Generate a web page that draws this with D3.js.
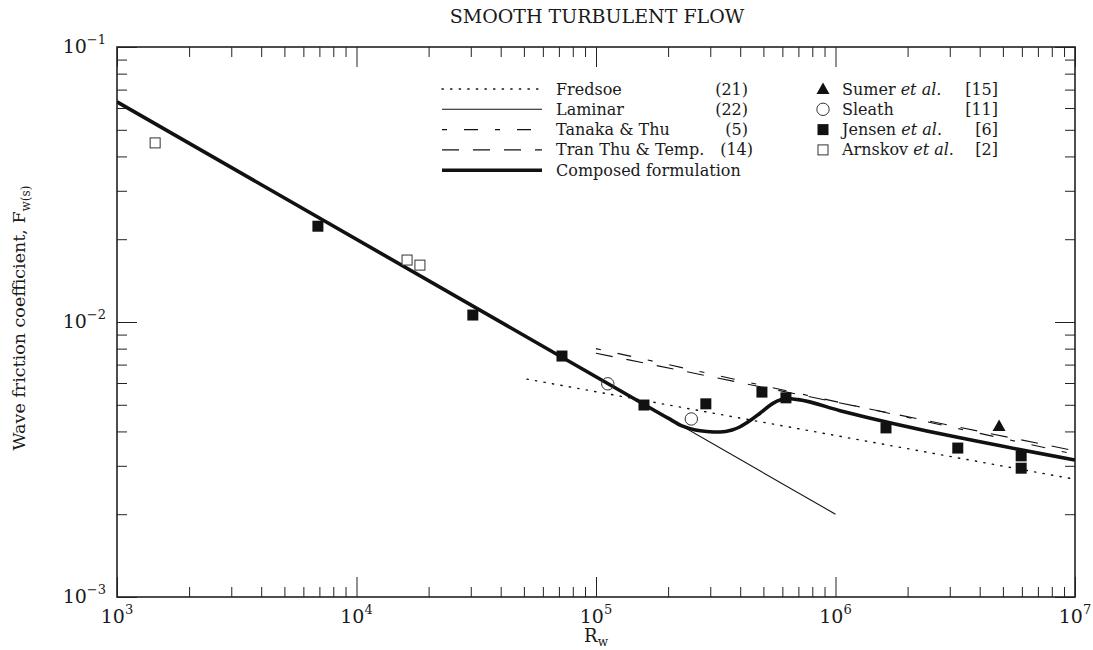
<!DOCTYPE html>
<html><head><meta charset="utf-8">
<script src="https://cdn.jsdelivr.net/npm/d3@7"></script>
<style>
body{margin:0;background:#fff;}
text{font-family:"DejaVu Serif",serif;fill:#1a1a1a;}
</style></head>
<body><svg id="c" width="1093" height="650"></svg>
<script>
// ---- data ----
const xMajorTicks = [1e3, 1e4, 1e5, 1e6, 1e7];
const xTickExp = ["3", "4", "5", "6", "7"];
const yMajorTicks = [1e-3, 1e-2, 1e-1];
const yTickExp = ["\u22123", "\u22122", "\u22121"];

const laminarRw = [1e3, 1e6];
const laminarF = [0.0632, 0.0020];
const fredsoeRw = [5.15e4, 1e7];
const fredsoeF = [0.0062, 0.00268];
const tanakaRw = [1e5, 1e7];
const tanakaF = [0.0080, 0.0033];
const tranThuRw = [1e5, 1e7];
const tranThuF = [0.0077, 0.0034];
const composedRw = [1e3, 1.5e5, 2.0e5, 2.3e5, 2.6e5, 2.9e5, 3.3e5, 3.7e5, 4.0e5, 4.4e5, 4.84e5, 5.48e5, 6.27e5, 7.0e5, 1.045e6, 1e7];
const composedF  = [0.0632, 0.00516, 0.00447, 0.00418, 0.00405, 0.00400, 0.00398, 0.00405, 0.00416, 0.00438, 0.00466, 0.00506, 0.00527, 0.00522, 0.00476, 0.00315];

const sumerRw = [4.82e6];
const sumerF = [0.00419];
const sleathRw = [1.12e5, 2.50e5];
const sleathF = [0.00596, 0.00444];
const jensenRw = [6.9e3, 3.06e4, 7.21e4, 1.586e5, 2.875e5, 4.93e5, 6.21e5, 1.625e6, 3.24e6, 5.96e6, 5.96e6];
const jensenF = [0.0223, 0.0106, 0.00752, 0.00499, 0.00504, 0.00556, 0.0053, 0.00412, 0.00348, 0.00326, 0.00294];
const arnskovRw = [1443, 16260, 18400];
const arnskovF = [0.0448, 0.0168, 0.0161];

const lineLegend = [
  {name: "Fredsoe", ref: "(21)", key: "fredsoe"},
  {name: "Laminar", ref: "(22)", key: "laminar"},
  {name: "Tanaka & Thu", ref: "(5)", key: "tanaka"},
  {name: "Tran Thu & Temp.", ref: "(14)", key: "tranthu"},
  {name: "Composed formulation", ref: "", key: "composed"}
];
const symLegend = [
  {name: "Sumer", ital: " et al.", ref: "[15]", key: "sumer"},
  {name: " Sleath", ital: "", ref: "[11]", key: "sleath"},
  {name: "Jensen", ital: " et al.", ref: "[6]", key: "jensen"},
  {name: "Arnskov", ital: " et al.", ref: "[2]", key: "arnskov"}
];

// ---- layout ----
const L = 117, R = 1075, T = 47, B = 597;
const svg = d3.select("#c");
const x = d3.scaleLog().domain([1e3, 1e7]).range([L, R]);
const y = d3.scaleLog().domain([1e-3, 1e-1]).range([B, T]);

const styles = {
  fredsoe: {w: 1.4, dash: "1.3,7.3", cap: "round"},
  laminar: {w: 1.1, dash: null},
  tanaka: {w: 1.1, dash: "5,17,14,17"},
  tranthu: {w: 1.1, dash: "17,14"},
  composed: {w: 3.6, dash: null}
};

function minors(lo, hi) {
  const out = [];
  for (let e = lo; e < hi; e++) for (let k = 2; k <= 9; k++) out.push(k * Math.pow(10, e));
  return out;
}
const xMinor = minors(3, 7), yMinor = minors(-3, -1);

function axisGroup(axisFn, scale, vals, len, transform) {
  const g = svg.append("g").attr("transform", transform)
    .call(axisFn(scale).tickValues(vals).tickSize(-len).tickFormat(""));
  g.select(".domain").remove();
  g.selectAll("line").attr("stroke", "#222").attr("stroke-width", 1);
  return g;
}
axisGroup(d3.axisBottom, x, xMinor, 10, `translate(0,${B})`);
axisGroup(d3.axisBottom, x, xMajorTicks, 20, `translate(0,${B})`);
axisGroup(d3.axisTop, x, xMinor, 10, `translate(0,${T})`);
axisGroup(d3.axisTop, x, xMajorTicks, 20, `translate(0,${T})`);
axisGroup(d3.axisLeft, y, yMinor, 10, `translate(${L},0)`);
axisGroup(d3.axisLeft, y, yMajorTicks, 20, `translate(${L},0)`);
axisGroup(d3.axisRight, y, yMinor, 10, `translate(${R},0)`);
axisGroup(d3.axisRight, y, yMajorTicks, 20, `translate(${R},0)`);

svg.append("rect").attr("x", L).attr("y", T).attr("width", R - L).attr("height", B - T)
  .attr("fill", "none").attr("stroke", "#222").attr("stroke-width", 1.6);

// tick labels
xMajorTicks.forEach((v, i) => {
  const t = svg.append("text").attr("x", x(v)).attr("y", 623).attr("text-anchor", "middle")
    .attr("font-family", "Liberation Serif").attr("font-size", 19);
  t.append("tspan").text("10");
  t.append("tspan").attr("dy", -9).attr("font-size", 13).text(xTickExp[i]);
});
yMajorTicks.forEach((v, i) => {
  const t = svg.append("text").attr("x", 106).attr("y", y(v) + 6).attr("text-anchor", "end")
    .attr("font-family", "Liberation Serif").attr("font-size", 19);
  t.append("tspan").text("10");
  t.append("tspan").attr("dy", -9).attr("font-size", 13).text(yTickExp[i]);
});

// axis titles
const xt = svg.append("text").attr("x", 596).attr("y", 642).attr("text-anchor", "middle")
  .attr("font-family", "Liberation Serif").attr("font-size", 18);
xt.append("tspan").text("R");
xt.append("tspan").attr("dy", 4).attr("font-size", 12).text("w");
const yt = svg.append("text").attr("transform", "translate(25,318) rotate(-90)")
  .attr("text-anchor", "middle").attr("font-size", 17.5);
yt.append("tspan").text("Wave friction coefficient, F");
yt.append("tspan").attr("dy", 5).attr("font-size", 12).text("w(s)");

svg.append("text").attr("x", 597).attr("y", 23).attr("text-anchor", "middle")
  .attr("font-family", "Liberation Serif").attr("font-size", 19).text("SMOOTH TURBULENT FLOW");

// lines
svg.append("clipPath").attr("id", "pc").append("rect")
  .attr("x", L).attr("y", T).attr("width", R - L).attr("height", B - T);
function drawLine(rw, f, key, curve) {
  const pts = rw.map((v, i) => [v, f[i]]);
  const gen = d3.line().x(d => x(d[0])).y(d => y(d[1])).curve(curve || d3.curveLinear);
  const s = styles[key];
  svg.append("path").attr("d", gen(pts)).attr("fill", "none").attr("stroke", "#111")
    .attr("stroke-width", s.w).attr("stroke-dasharray", s.dash)
    .attr("stroke-linecap", s.cap || "butt").attr("clip-path", "url(#pc)");
}
drawLine(laminarRw, laminarF, "laminar");
drawLine(fredsoeRw, fredsoeF, "fredsoe");
drawLine(tanakaRw, tanakaF, "tanaka");
drawLine(tranThuRw, tranThuF, "tranthu");
drawLine(composedRw, composedF, "composed", d3.curveMonotoneX);

// markers
function marker(g, key, cx, cy) {
  if (key === "jensen") g.append("rect").attr("x", cx - 5.5).attr("y", cy - 5.5).attr("width", 11).attr("height", 11).attr("fill", "#111");
  else if (key === "arnskov") g.append("rect").attr("x", cx - 5).attr("y", cy - 5).attr("width", 10).attr("height", 10).attr("fill", "#fff").attr("stroke", "#333").attr("stroke-width", 1);
  else if (key === "sleath") g.append("circle").attr("cx", cx).attr("cy", cy).attr("r", 6.2).attr("fill", "none").attr("stroke", "#333").attr("stroke-width", 1);
  else if (key === "sumer") g.append("path").attr("d", `M${cx},${cy - 6.5}L${cx + 6.5},${cy + 5}L${cx - 6.5},${cy + 5}Z`).attr("fill", "#111");
}
const mg = svg.append("g");
sleathRw.forEach((v, i) => marker(mg, "sleath", x(v), y(sleathF[i])));
arnskovRw.forEach((v, i) => marker(mg, "arnskov", x(v), y(arnskovF[i])));
jensenRw.forEach((v, i) => marker(mg, "jensen", x(v), y(jensenF[i])));
sumerRw.forEach((v, i) => marker(mg, "sumer", x(v), y(sumerF[i])));

// legends
const rowY0 = 89, rowDY = 20.3;
lineLegend.forEach((d, i) => {
  const yy = rowY0 + i * rowDY;
  const s = styles[d.key];
  svg.append("line").attr("x1", 442).attr("x2", 542).attr("y1", yy).attr("y2", yy)
    .attr("stroke", "#111").attr("stroke-width", s.w).attr("stroke-dasharray", s.dash)
    .attr("stroke-linecap", s.cap || "butt");
  svg.append("text").attr("x", 556).attr("y", yy + 5.5).attr("font-size", 16).text(d.name);
  if (d.ref) svg.append("text").attr("x", d.ref === "(14)" ? 753 : 748).attr("y", yy + 5.5)
    .attr("text-anchor", "end").attr("font-size", 16).text(d.ref);
});
symLegend.forEach((d, i) => {
  const yy = rowY0 + i * rowDY;
  marker(svg, d.key, 823, yy);
  const t = svg.append("text").attr("x", 842).attr("y", yy + 5.5).attr("font-size", 16);
  t.append("tspan").text(d.name);
  if (d.ital) t.append("tspan").attr("font-style", "italic").text(d.ital);
  svg.append("text").attr("x", 998).attr("y", yy + 5.5).attr("text-anchor", "end").attr("font-size", 16).text(d.ref);
});
</script></body></html>
